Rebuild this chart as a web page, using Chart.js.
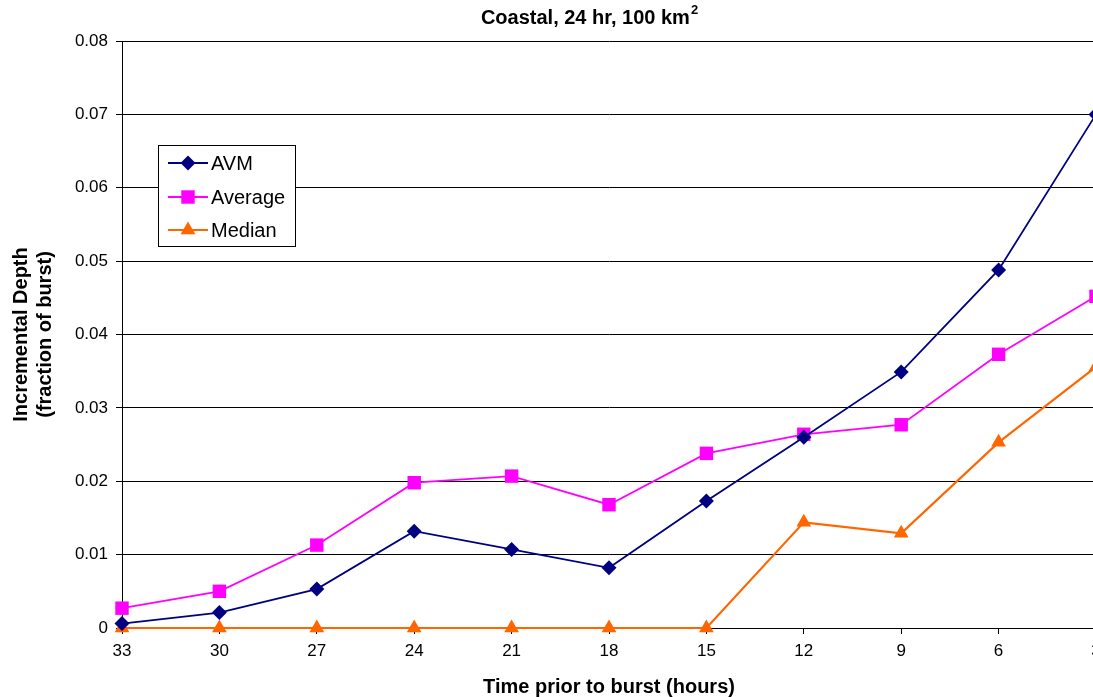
<!DOCTYPE html>
<html>
<head>
<meta charset="utf-8">
<script src="https://cdn.jsdelivr.net/npm/chart.js@4/dist/chart.umd.min.js"></script>
<style>
  html, body { margin: 0; padding: 0; background: #fff; overflow: hidden; }
  #wrap { position: absolute; left: 0; top: 0; }
</style>
</head>
<body>
<div id="wrap"><canvas id="c" width="1176" height="697"></canvas></div>
<script>
// Hours before the burst (x categories)
const hours = ['33', '30', '27', '24', '21', '18', '15', '12', '9', '6', '3'];

// Incremental depth, fraction of burst
const avm     = [0.0006, 0.0021, 0.0053, 0.0132, 0.0107, 0.0082, 0.0173, 0.0260, 0.0349, 0.0488, 0.0700];
const average = [0.0027, 0.0050, 0.0113, 0.0198, 0.0207, 0.0168, 0.0238, 0.0264, 0.0277, 0.0373, 0.0452];
const median  = [0, 0, 0, 0, 0, 0, 0, 0.0144, 0.0129, 0.0253, 0.0356];

const titleMain = 'Coastal, 24 hr, 100 km';
const titleSup = '2';

const FONT = '"Liberation Sans", Arial, sans-serif';

function drawMarker(ctx, style, x, y, r, color) {
  ctx.save();
  ctx.fillStyle = color;
  ctx.beginPath();
  if (style === 'rectRot') {
    ctx.moveTo(x, y - r); ctx.lineTo(x + r, y); ctx.lineTo(x, y + r); ctx.lineTo(x - r, y);
  } else if (style === 'rect') {
    const s = r * Math.SQRT1_2;
    ctx.rect(x - s, y - s, 2 * s, 2 * s);
  } else if (style === 'triangle') {
    ctx.moveTo(x, y - r);
    ctx.lineTo(x + r * Math.sin(Math.PI * 2 / 3), y - r * Math.cos(Math.PI * 2 / 3));
    ctx.lineTo(x - r * Math.sin(Math.PI * 2 / 3), y - r * Math.cos(Math.PI * 2 / 3));
  }
  ctx.closePath();
  ctx.fill();
  ctx.restore();
}

// Title with a superscript unit, centred over the plot
const titlePlugin = {
  id: 'supTitle',
  afterDraw(chart) {
    const ctx = chart.ctx;
    ctx.save();
    ctx.fillStyle = '#000';
    ctx.textBaseline = 'middle';
    ctx.font = 'bold 20px ' + FONT;
    const w1 = ctx.measureText(titleMain).width;
    ctx.font = 'bold 13px ' + FONT;
    const w2 = ctx.measureText(titleSup).width;
    const cx = 589;
    const x0 = cx - (w1 + w2) / 2;
    const y = 18;
    ctx.textAlign = 'left';
    ctx.font = 'bold 20px ' + FONT;
    ctx.fillText(titleMain, x0, y);
    ctx.font = 'bold 13px ' + FONT;
    ctx.fillText(titleSup, x0 + w1 + 1, y - 8);
    ctx.restore();
  }
};

// Boxed legend inside the plot area
const boxLegend = {
  id: 'boxLegend',
  afterDraw(chart) {
    const ctx = chart.ctx;
    const bx = 158.5, by = 145.5, bw = 137, bh = 101;
    ctx.save();
    ctx.fillStyle = '#fff';
    ctx.fillRect(bx, by, bw, bh);
    ctx.strokeStyle = '#000';
    ctx.lineWidth = 1;
    ctx.strokeRect(bx, by, bw, bh);
    const rows = [163, 197, 230];
    chart.data.datasets.forEach((ds, i) => {
      const y = rows[i];
      ctx.strokeStyle = ds.borderColor;
      ctx.lineWidth = ds.borderWidth;
      ctx.beginPath();
      ctx.moveTo(168, y);
      ctx.lineTo(208, y);
      ctx.stroke();
      drawMarker(ctx, ds.pointStyle, 188, y, ds.pointRadius, ds.pointBackgroundColor);
      ctx.fillStyle = '#000';
      ctx.font = '20px ' + FONT;
      ctx.textAlign = 'left';
      ctx.textBaseline = 'middle';
      ctx.fillText(ds.label, 211, y + 1);
    });
    ctx.restore();
  }
};

new Chart(document.getElementById('c'), {
  type: 'line',
  data: {
    labels: hours,
    datasets: [
      {
        label: 'AVM', data: avm,
        borderColor: '#000080', backgroundColor: '#000080',
        pointBackgroundColor: '#000080', pointBorderColor: '#000080',
        borderWidth: 1.8, pointStyle: 'rectRot', pointRadius: 7.5, pointBorderWidth: 0
      },
      {
        label: 'Average', data: average,
        borderColor: '#FF00FF', backgroundColor: '#FF00FF',
        pointBackgroundColor: '#FF00FF', pointBorderColor: '#FF00FF',
        borderWidth: 1.8, pointStyle: 'rect', pointRadius: 9.5, pointBorderWidth: 0
      },
      {
        label: 'Median', data: median,
        borderColor: '#FF6600', backgroundColor: '#FF6600',
        pointBackgroundColor: '#FF6600', pointBorderColor: '#FF6600',
        borderWidth: 2.2, pointStyle: 'triangle', pointRadius: 8.5, pointBorderWidth: 0
      }
    ]
  },
  options: {
    responsive: false,
    animation: false,
    clip: false,
    layout: { padding: { left: 0, top: 41, right: 80, bottom: 0 } },
    plugins: {
      legend: { display: false },
      title: { display: false },
      tooltip: { enabled: false }
    },
    scales: {
      x: {
        offset: false,
        afterFit(scale) { scale.height = 69; },
        grid: { drawOnChartArea: false, drawTicks: true, tickLength: 6, color: '#000', lineWidth: 1 },
        border: { color: '#000', width: 1 },
        ticks: { color: '#000', font: { family: FONT, size: 17 }, padding: 7, maxRotation: 0, autoSkip: false },
        title: {
          display: true, text: 'Time prior to burst (hours)', color: '#000',
          font: { family: FONT, size: 20, weight: 'bold', lineHeight: 1.2 },
          padding: { top: 0, bottom: -2 }
        }
      },
      y: {
        min: 0, max: 0.08,
        afterFit(scale) { scale.width = 122; },
        grid: { drawTicks: true, tickLength: 6, color: '#000', lineWidth: 1 },
        border: { color: '#000', width: 1 },
        ticks: {
          stepSize: 0.01, color: '#000', font: { family: FONT, size: 17 }, padding: 8,
          callback: v => (v === 0 ? '0' : v.toFixed(2))
        },
        title: {
          display: true, text: ['Incremental Depth', '(fraction of burst)'], color: '#000',
          font: { family: FONT, size: 20, weight: 'bold', lineHeight: 1.2 },
          padding: { top: 9, bottom: 0 }
        }
      }
    }
  },
  plugins: [titlePlugin, boxLegend]
});
</script>
</body>
</html>
